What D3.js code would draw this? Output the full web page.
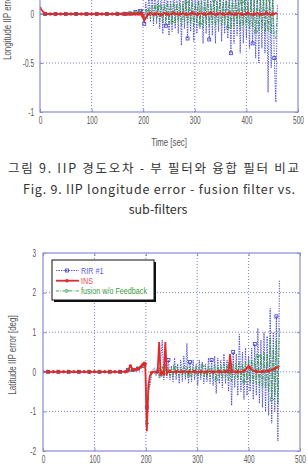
<!DOCTYPE html>
<meta charset="utf-8">
<style>
body { margin: 0; background: #fff; }
svg { display: block; }
</style>
<svg width="308" height="474"></svg>
<script src="https://cdn.jsdelivr.net/npm/d3@7"></script>
<script>

// sample times: sparse before the event, every 3 s after it
var tFlat = [0, 10, 20, 30, 40, 50, 60, 70, 80, 90, 100, 110, 120, 130, 140, 150,
             160, 165, 170, 175, 180, 185, 190, 194, 197];
var tNoise = d3.range(199, 461, 3);
var time = tFlat.concat(tNoise);

var xTicks = [0, 100, 200, 300, 400, 500];
var lonTicks = [-1, -0.5, 0, 0.5, 1];
var latTicks = [-2, -1, 0, 1, 2, 3];
var seriesNames = ['RIR #1', 'INS', 'fusion w/o Feedback'];

// Fig. 9 - longitude IIP error [deg]
var lonRir = [0, 0, 0.005, 0, 0, 0, 0.005, 0, 0, 0, 0.005, 0, 0, 0, 0.005, 0,
  0.01, 0, 0.01, 0.005, 0.01, 0.02, 0.01, 0.03, 0.02,
  0.05, -0.1, 0.12, -0.05, 0.2, -0.08, 0.25, -0.12, 0.3, -0.1,
  0.18, -0.15, 0.3, -0.2, 0.22, -0.12, 0.28, -0.22, 0.2, -0.18,
  0.3, -0.15, 0.25, -0.2, 0.3, -0.32, 0.2, -0.15, 0.28, -0.25,
  0.22, -0.18, 0.3, -0.28, 0.25, -0.2, 0.3, -0.15, 0.22, -0.3,
  0.28, -0.2, 0.3, -0.26, 0.2, -0.22, 0.3, -0.3, 0.25, -0.18,
  0.3, -0.28, 0.22, -0.2, 0.3, -0.25, 0.28, -0.4, 0.3, -0.3,
  0.25, -0.22, 0.3, -0.4, 0.28, -0.3, 0.3, -0.25, 0.22, -0.35,
  0.3, -0.3, 0.25, -0.45, 0.3, -0.5, 0.3, -0.35, 0.28, -0.4,
  0.3, -0.8, 0.3, -0.55, 0.3, -0.45, -0.9, 0.1];
var lonIns = [0.06, 0, 0, 0, 0, 0, 0, 0, 0, 0, 0, 0, 0, 0, 0, 0,
  0, 0, 0, 0, 0, 0, 0, 0, 0.01,
  -0.02, -0.07, -0.04, -0.01, 0, 0.01, 0, -0.01, 0, 0.01,
  0, 0, -0.01, 0, 0.01, 0, 0, -0.01, 0, 0,
  0.01, 0, 0, -0.01, 0, 0, 0.01, 0, 0, -0.01,
  0, 0, 0.01, 0, 0, -0.01, 0, 0, 0.01, 0,
  0, -0.01, 0, 0, 0.01, 0, 0, -0.01, 0, 0,
  0.01, 0, 0, -0.01, 0, 0, 0.01, 0, 0, -0.01,
  0, 0, 0.01, 0, 0, -0.01, 0, 0, 0.01, 0,
  0, -0.01, 0, 0, 0.01, 0, 0, -0.01, 0, 0,
  0.01, 0, 0, -0.01, 0, 0, 0.01, 0];
var lonFus = [0, 0, 0, 0, 0, 0, 0, 0, 0, 0, 0, 0, 0, 0, 0, 0.005,
  0.01, 0.005, 0.01, 0.01, 0.015, 0.01, 0.02, 0.02, 0.03,
  0.02, -0.04, 0.05, -0.03, 0.06, -0.05, 0.08, -0.06, 0.1, -0.05,
  0.08, -0.07, 0.1, -0.08, 0.09, -0.06, 0.12, -0.1, 0.1, -0.08,
  0.12, -0.1, 0.1, -0.08, 0.12, -0.12, 0.1, -0.08, 0.12, -0.1,
  0.14, -0.1, 0.12, -0.12, 0.1, -0.08, 0.14, -0.1, 0.12, -0.14,
  0.12, -0.1, 0.15, -0.12, 0.1, -0.1, 0.14, -0.12, 0.12, -0.1,
  0.15, -0.12, 0.12, -0.1, 0.14, -0.14, 0.15, -0.15, 0.12, -0.12,
  0.15, -0.1, 0.14, -0.16, 0.12, -0.12, 0.15, -0.14, 0.12, -0.15,
  0.15, -0.14, 0.14, -0.18, 0.15, -0.16, 0.15, -0.14, 0.15, -0.2,
  0.15, -0.18, 0.15, -0.2, 0.15, -0.22, -0.25, 0];

// Fig. 10 - latitude IIP error [deg]
var latRir = [0, 0, 0, 0, 0, 0, 0, 0, 0, 0, 0, 0, 0, 0, 0, 0,
  0.02, 0.05, 0.03, 0.05, 0.06, 0.08, 0.1, 0.15, 0.2,
  0.1, -0.9, -0.5, -0.35, -0.1, 0.05, 0.1, -0.1, 0.15, -0.15,
  0.3, 0.8, -0.2, 0.2, -0.15, 0.3, -0.2, 0.15, -0.25, 0.35,
  -0.2, 0.2, -0.3, 0.3, -0.25, 0.4, -0.2, 0.72, -0.3, 0.25,
  -0.25, 0.3, -0.2, 0.2, -0.35, 0.3, -0.2, 0.25, -0.3, 0.2,
  -0.25, 0.35, -0.3, 0.3, -0.35, 0.4, -0.55, 0.35, -0.3, 0.3,
  -0.4, 0.45, -0.3, 0.3, -0.5, 0.4, -0.85, 0.5, -0.4, 0.45,
  -0.6, 0.95, -0.5, 0.5, -0.7, 0.6, -0.6, 0.4, -0.5, 0.6,
  -0.7, 0.7, -0.6, 1.1, -0.8, 0.8, -0.9, 1.0, -1.0, 0.9,
  -1.1, 1.6, -1.3, 1.0, -1.0, 1.4, -1.75, 2.3];
var latIns = [0, 0, 0, 0, 0, 0, 0, 0, 0, 0, 0, 0, 0, 0, 0, 0,
  0, 0.02, 0.15, 0.05, 0.05, 0.08, 0.12, 0.18, 0.22,
  0.2, -1.5, -0.35, -0.1, -0.02, 0, 0, -0.02, 0, 0.75,
  -0.1, 0, -0.05, 0.75, -0.05, 0, 0.01, 0, -0.01, 0,
  0, 0.01, 0, -0.01, 0, 0, 0.01, 0, -0.01, 0,
  0, 0, 0.01, 0, -0.01, 0, 0, 0.01, 0, -0.01,
  0, 0, 0.01, 0, -0.01, 0, 0, 0.01, 0, -0.01,
  0, 0, 0.01, 0, -0.01, 0.45, 0, 0.01, 0, -0.01,
  0, 0, 0.01, 0, 0.02, 0.05, 0.1, 0.15, 0.1, 0.05,
  0.03, 0.02, 0, 0.01, 0, 0, 0.01, 0, 0.02, 0.03,
  0.02, 0.04, 0.05, 0.06, 0.08, 0.1, 0.12, 0.15];
var latFus = [0, 0, 0, 0, 0, 0, 0, 0, 0, 0, 0, 0, 0, 0, 0, 0,
  0.01, 0.03, 0.05, 0.05, 0.06, 0.08, 0.12, 0.15, 0.18,
  0.1, -1.3, -0.6, -0.15, -0.05, 0.02, -0.05, 0.05, -0.05, 0.1,
  -0.1, 0.15, -0.1, 0.1, -0.08, 0.1, -0.1, 0.08, -0.1, 0.12,
  -0.08, 0.1, -0.12, 0.1, -0.1, 0.12, -0.08, 0.15, -0.1, 0.12,
  -0.12, 0.1, -0.1, 0.12, -0.15, 0.12, -0.1, 0.15, -0.12, 0.1,
  -0.15, 0.15, -0.12, 0.12, -0.15, 0.18, -0.2, 0.15, -0.12, 0.15,
  -0.18, 0.2, -0.15, 0.15, -0.2, 0.2, -0.25, 0.2, -0.15, 0.2,
  -0.2, 0.25, -0.2, 0.2, -0.25, 0.25, -0.2, 0.3, -0.25, 0.3,
  -0.3, 0.35, -0.3, 0.4, -0.35, 0.45, -0.4, 0.5, -0.4, 0.45,
  -0.5, 0.87, -0.7, 0.6, -0.6, 0.8, -0.8, 1.1];

var svg = d3.select('svg')
var FRAME = '#8a8ad8'
var GRID = '#5a5acc'
var TICKTXT = '#555'

// line styles: RIR dotted blue, INS thick red, fusion dash-dot green
var styles = [
  { color: '#3a3ad2', text: '#5a5ae0', width: 0.85, dash: '1.4,1.1', marker: 'square', fs: 2, ns: 14, off: 1 },
  { color: '#e22a2a', text: '#f04848', width: 1.8, dash: null, marker: 'dot', fs: 1, ns: 4, off: 0 },
  { color: '#2f9a3c', text: '#3a9a3a', width: 0.9, dash: '3,1.3,1,1.3', marker: 'tri', fs: 2, ns: 9, off: 1 }
]

// squeeze text horizontally (the scanned figure is compressed)
function squeeze(sel, k) {
  sel.each(function () {
    var w = this.getComputedTextLength()
    d3.select(this).attr('textLength', w * k).attr('lengthAdjust', 'spacingAndGlyphs')
  })
}

function drawMarker(sel, type, color) {
  if (type === 'square') {
    sel.append('rect').attr('x', -1.5).attr('y', -1.5).attr('width', 3).attr('height', 3)
      .attr('fill', 'none').attr('stroke', color).attr('stroke-width', 0.8)
  } else if (type === 'dot') {
    sel.append('circle').attr('r', 1.7).attr('fill', color)
  } else {
    sel.append('path').attr('d', d3.symbol(d3.symbolTriangle, 6)())
      .attr('transform', 'rotate(90)')
      .attr('fill', 'none').attr('stroke', color).attr('stroke-width', 0.7)
  }
}

function isMarked(i, st) {
  if (i < tFlat.length) return i % st.fs === st.off % st.fs
  return (i - tFlat.length) % st.ns === st.off
}

function drawChart(cfg, idx) {
  var x = d3.scaleLinear().domain([0, 500]).range(cfg.xRange)
  var y = d3.scaleLinear().domain(cfg.yDomain).range(cfg.yRange)
  var g = svg.append('g')
  var x0 = cfg.xRange[0], x1 = cfg.xRange[1], y0 = cfg.yRange[0], y1 = cfg.yRange[1]

  // grid
  g.append('g').selectAll('line').data(xTicks.slice(1, -1)).enter().append('line')
    .attr('x1', x).attr('x2', x).attr('y1', y0).attr('y2', y1)
    .attr('stroke', GRID).attr('stroke-width', 0.8).attr('stroke-dasharray', '1,2')
  g.append('g').selectAll('line').data(cfg.yTicks.slice(1, -1)).enter().append('line')
    .attr('x1', x0).attr('x2', x1).attr('y1', y).attr('y2', y)
    .attr('stroke', GRID).attr('stroke-width', 0.8).attr('stroke-dasharray', '1,2')

  // data
  var clipId = 'clip' + idx
  g.append('clipPath').attr('id', clipId).append('rect')
    .attr('x', x0).attr('y', y1).attr('width', x1 - x0).attr('height', y0 - y1)
  var plot = g.append('g').attr('clip-path', 'url(#' + clipId + ')')
  var line = d3.line().x(function (d) { return x(d[0]) }).y(function (d) { return y(d[1]) })

  ;[0, 2, 1].forEach(function (s) {
    var st = styles[s]
    var pts = time.map(function (t, i) { return [t, cfg.series[s][i]] })
    plot.append('path').datum(pts)
      .attr('d', line).attr('fill', 'none')
      .attr('stroke', st.color).attr('stroke-width', st.width)
      .attr('stroke-dasharray', st.dash)
    var m = plot.append('g').selectAll('g')
      .data(pts.filter(function (d, i) { return isMarked(i, st) }))
      .enter().append('g')
      .attr('transform', function (d) { return 'translate(' + x(d[0]) + ',' + y(d[1]) + ')' })
    drawMarker(m, st.marker, st.color)
  })

  // frame
  g.append('rect').attr('x', x0).attr('y', y1).attr('width', x1 - x0).attr('height', y0 - y1)
    .attr('fill', 'none').attr('stroke', FRAME).attr('stroke-width', 1.2)

  // axes
  var fmt = function (d) { return d <= cfg.yMaxLabel ? String(d) : '' }
  g.append('g').attr('transform', 'translate(0,' + y0 + ')')
    .call(d3.axisBottom(x).tickValues(xTicks).tickSize(-3).tickPadding(5))
  g.append('g').attr('transform', 'translate(' + x0 + ',0)')
    .call(d3.axisLeft(y).tickValues(cfg.yTicks).tickSize(-3).tickPadding(cfg.yPad).tickFormat(fmt))
  g.append('g').attr('transform', 'translate(0,' + y1 + ')')
    .call(d3.axisTop(x).tickValues(xTicks).tickSize(-3).tickFormat(''))
  g.append('g').attr('transform', 'translate(' + x1 + ',0)')
    .call(d3.axisRight(y).tickValues(cfg.yTicks).tickSize(-3).tickFormat(''))
  g.selectAll('.domain').remove()
  g.selectAll('.tick line').attr('stroke', FRAME)
  g.selectAll('.tick text').filter(function () { return this.textContent === '' }).remove()
  g.selectAll('.tick text').attr('fill', TICKTXT)
    .attr('font-family', 'Liberation Sans, Arial, sans-serif').attr('font-size', 10.5)
  squeeze(g.selectAll('.tick text'), 0.62)

  // axis labels
  var yl = g.append('text')
    .attr('transform', 'translate(' + cfg.labelX + ',' + ((y0 + y1) / 2 + 3) + ') rotate(-90)')
    .attr('text-anchor', 'middle').attr('dy', '0.35em')
    .attr('font-family', 'Liberation Sans, Arial, sans-serif').attr('font-size', 10)
    .attr('fill', TICKTXT).text(cfg.yLabel)
  squeeze(yl, 0.8)
  if (cfg.xLabel) {
    var xl = g.append('text').attr('x', (x0 + x1) / 2).attr('y', 142).attr('dy', '0.35em')
      .attr('text-anchor', 'middle')
      .attr('font-family', 'Liberation Sans, Arial, sans-serif').attr('font-size', 10)
      .attr('fill', TICKTXT).text(cfg.xLabel)
    squeeze(xl, 0.78)
  }

  if (cfg.legend) {
    var lg = g.append('g').attr('transform', 'translate(52,260)')
    lg.append('rect').attr('x', 2).attr('y', 2).attr('width', 102).attr('height', 40).attr('fill', '#111')
    lg.append('rect').attr('width', 102).attr('height', 40)
      .attr('fill', '#fff').attr('stroke', '#111').attr('stroke-width', 1)
    seriesNames.forEach(function (name, s) {
      var st = styles[s]
      var ly = 10.5 + s * 10.2
      lg.append('line').attr('x1', 4).attr('x2', 27).attr('y1', ly).attr('y2', ly)
        .attr('stroke', st.color).attr('stroke-width', st.width).attr('stroke-dasharray', st.dash)
      drawMarker(lg.append('g').attr('transform', 'translate(15,' + ly + ')'), st.marker, st.color)
      var t = lg.append('text').attr('x', 29).attr('y', ly).attr('dy', '0.35em')
        .attr('font-family', 'Liberation Sans, Arial, sans-serif').attr('font-size', 9)
        .attr('fill', st.text).text(name)
      squeeze(t, 0.8)
    })
  }
}

drawChart({ xRange: [40, 298], yDomain: [-1, 1], yRange: [112, -84], yTicks: lonTicks, yMaxLabel: 0,
  series: [lonRir, lonIns, lonFus], yLabel: 'Longitude IIP error [deg]', xLabel: 'Time [sec]',
  labelX: 7, yPad: 6, legend: false }, 0)
drawChart({ xRange: [43, 300], yDomain: [-2, 3], yRange: [451, 253], yTicks: latTicks, yMaxLabel: 3,
  series: [latRir, latIns, latFus], yLabel: 'Latitude IIP error [deg]', xLabel: null,
  labelX: 12, yPad: 7, legend: true }, 1)

// caption of Fig. 9
var cap = svg.append('g').attr('font-family', 'Noto Sans CJK KR, sans-serif')
  .attr('font-size', 12.5).attr('fill', '#333')
cap.append('text').attr('x', 8).attr('y', 169).attr('dy', '0.35em')
  .attr('textLength', 291).attr('lengthAdjust', 'spacing')
  .text('그림 9. IIP 경도오차 - 부 필터와 융합 필터 비교')
cap.append('text').attr('x', 23).attr('y', 190).attr('dy', '0.35em')
  .attr('textLength', 272).attr('lengthAdjust', 'spacing')
  .text('Fig. 9. IIP longitude error - fusion filter vs.')
cap.append('text').attr('x', 158).attr('y', 210).attr('dy', '0.35em')
  .attr('text-anchor', 'middle')
  .text('sub-filters')

</script>
